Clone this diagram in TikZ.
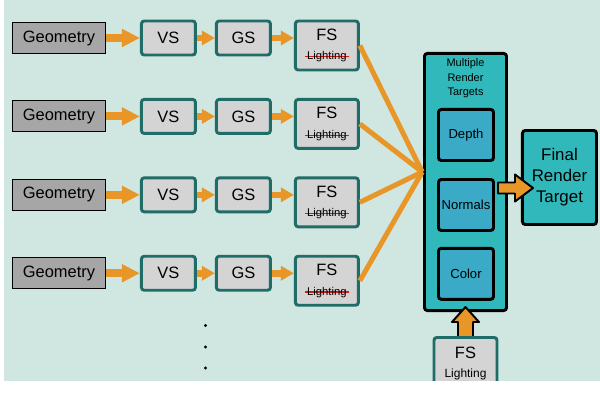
\documentclass[tikz,border=0pt]{standalone}
\usepackage{fontspec}
\setmainfont{Liberation Sans}
\usetikzlibrary{positioning}
\usetikzlibrary{arrows.meta}
\definecolor{bgteal}{RGB}{208,230,225}
\definecolor{stagegray}{RGB}{212,212,212}
\definecolor{stageedge}{RGB}{32,108,102}
\definecolor{geogray}{RGB}{166,166,166}
\definecolor{feedorange}{RGB}{232,150,40}
\definecolor{mrtteal}{RGB}{48,184,186}
\definecolor{targetblue}{RGB}{58,170,198}
\definecolor{strikered}{RGB}{215,25,25}
\tikzstyle{geo} = [rectangle, draw=black, fill=geogray, line width=0.6pt, minimum width=2.325cm, minimum height=0.775cm, inner sep=0pt, font=\fontsize{11.7}{14}\selectfont]
\tikzstyle{stage} = [rectangle, rounded corners=2pt, draw=stageedge, fill=stagegray, line width=2.1pt, minimum width=1.35cm, minimum height=0.85cm, inner sep=0pt, align=center, font=\fontsize{11.7}{14}\selectfont]
\tikzstyle{fs} = [stage, minimum width=1.575cm, minimum height=1.225cm]
\tikzstyle{mrt} = [rectangle, rounded corners=2pt, draw=black, fill=mrtteal, line width=2.1pt, minimum width=2.05cm, minimum height=6.425cm]
\tikzstyle{target} = [rectangle, rounded corners=2pt, draw=black, fill=targetblue, line width=2.1pt, minimum width=1.375cm, minimum height=1.275cm, inner sep=0pt, font=\fontsize{9.3}{11}\selectfont]
\tikzstyle{final} = [rectangle, rounded corners=2pt, draw=black, fill=mrtteal, line width=2.1pt, minimum width=1.85cm, minimum height=2.35cm, inner sep=0pt, align=center, font=\fontsize{12}{15}\selectfont]
\tikzstyle{feed} = [draw=feedorange, line width=0.2cm, -{Triangle[length=0.45cm, width=0.425cm]}]
\tikzstyle{smallfeed} = [draw=feedorange, line width=0.165cm, -{Triangle[length=0.325cm, width=0.35cm]}]
\tikzstyle{fan} = [draw=feedorange, line width=0.125cm]
\tikzstyle{bigarrow} = [draw=black, fill=feedorange, line width=1.4pt, line join=round]
\newcommand{\rowstep}{1.96cm}
\newcommand{\lightfont}{\fontsize{8}{14}\selectfont}
\newcommand{\redout}[1]{\leavevmode\setbox0\hbox{#1}\rlap{\hspace*{-1.6pt}\textcolor{strikered}{\rule[0.45ex]{\dimexpr\wd0+3.2pt\relax}{0.8pt}}}#1}

\begin{document}
\begin{tikzpicture}[x=0.025cm, y=-0.025cm]
  \useasboundingbox (0,0) rectangle (600,411);
  \begin{scope}
  \clip (4,0) rectangle (600,381);
  \fill [bgteal] (4,0) rectangle (600,381);

  % Pipelines
  \node [geo] (geo1) at (59,38) {Geometry};
  \node [stage, right=0.85cm of geo1] (vs1) {VS};
  \node [stage, right=0.45cm of vs1] (gs1) {GS};
  \node [fs, right=0.55cm of gs1.north east, anchor=north west] (fs1) {FS\\\lightfont\redout{Lighting}};

  \node [geo, below of=geo1, node distance=\rowstep] (geo2) {Geometry};
  \node [stage, right=0.85cm of geo2] (vs2) {VS};
  \node [stage, right=0.45cm of vs2] (gs2) {GS};
  \node [fs, right=0.55cm of gs2.north east, anchor=north west] (fs2) {FS\\\lightfont\redout{Lighting}};

  \node [geo, below of=geo2, node distance=\rowstep] (geo3) {Geometry};
  \node [stage, right=0.85cm of geo3] (vs3) {VS};
  \node [stage, right=0.45cm of vs3] (gs3) {GS};
  \node [fs, right=0.55cm of gs3.north east, anchor=north west] (fs3) {FS\\\lightfont\redout{Lighting}};

  \node [geo, below of=geo3, node distance=\rowstep] (geo4) {Geometry};
  \node [stage, right=0.85cm of geo4] (vs4) {VS};
  \node [stage, right=0.45cm of vs4] (gs4) {GS};
  \node [fs, right=0.55cm of gs4.north east, anchor=north west] (fs4) {FS\\\lightfont\redout{Lighting}};

  \draw [feed] (geo1) -- (vs1);
  \draw [smallfeed] (vs1) -- (gs1);
  \draw [smallfeed] (gs1) -- (fs1.west |- gs1);
  \draw [feed] (geo2) -- (vs2);
  \draw [smallfeed] (vs2) -- (gs2);
  \draw [smallfeed] (gs2) -- (fs2.west |- gs2);
  \draw [feed] (geo3) -- (vs3);
  \draw [smallfeed] (vs3) -- (gs3);
  \draw [smallfeed] (gs3) -- (fs3.west |- gs3);
  \draw [feed] (geo4) -- (vs4);
  \draw [smallfeed] (vs4) -- (gs4);
  \draw [smallfeed] (gs4) -- (fs4.west |- gs4);

  % more pipelines
  \fill (205.5,325.5) circle (1.1pt);
  \fill (205.5,347) circle (1.1pt);
  \fill (205.5,368) circle (1.1pt);

  % Multiple render targets
  \node [mrt] (mrt) at (465.5,182) {};
  \node [anchor=north, inner sep=0pt, align=center, font=\fontsize{7.8}{10.3}\selectfont] (mrtlabel) at ([yshift=-0.16cm]mrt.north) {Multiple\\Render\\Targets};
  \node [target] (normals) at ([xshift=0.0125cm, yshift=-0.575cm]mrt.center) {Normals};
  \node [target, above of=normals, node distance=1.75cm] (depth) {Depth};
  \node [target, below of=normals, node distance=1.72cm] (color) {Color};

  % fan in
  \coordinate (hub) at ([xshift=-0.02cm, yshift=0.25cm]mrt.west);
  \draw [fan] (fs1.east) -- (hub);
  \draw [fan] (fs2.east) -- (hub);
  \draw [fan] (fs3.east) -- (hub);
  \draw [fan] (fs4.east) -- (hub);

  % Final target
  \node [final, anchor=west] (final) at ([xshift=0.325cm, yshift=0.1125cm]mrt.east) {Final\\Render\\Target};
  \draw [bigarrow] (normals.east) ++(3,-22.5) -- ++(17,0) -- ++(0,-8) -- ++(18,13.5) -- ++(-18,13.5) -- ++(0,-8) -- ++(-17,0) -- cycle;

  % Lighting pass
  \draw [bigarrow] (mrt.south) ++(0,-5) -- ++(13.5,15) -- ++(-6,0) -- ++(0,18) -- ++(-15,0) -- ++(0,-18) -- ++(-6,0) -- cycle;
  \node [fs, minimum height=1.3cm, anchor=north] (lightfs) at ([yshift=-0.6cm]mrt.south) {FS\\\fontsize{8.5}{12}\selectfont Lighting};
  \end{scope}
\end{tikzpicture}
\end{document}
